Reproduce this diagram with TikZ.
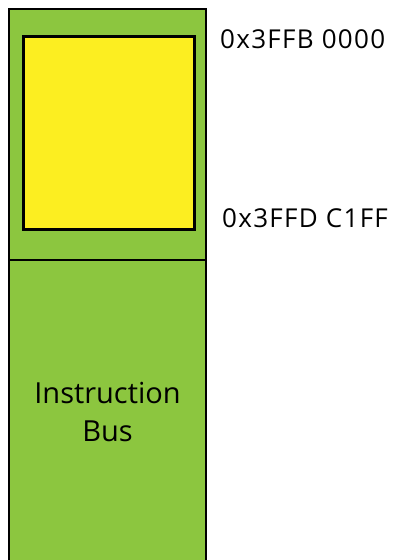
\documentclass[tikz,border=0pt]{standalone}
\usepackage{fontspec}
\setmainfont{Open Sans}
\newfontfamily\addrfont[LetterSpace=5]{Open Sans}
\usepackage{xcolor}
\usetikzlibrary{positioning}
\definecolor{busgreen}{HTML}{8CC63F}
\definecolor{memyellow}{HTML}{FCEE21}

\begin{document}
\begin{tikzpicture}[x=1pt, y=-1pt,
  region/.style={draw, line width=1.6pt, fill=busgreen, minimum width=197pt,
    inner sep=0pt, outer sep=0pt, align=center},
  mem/.style={draw, line width=2.6pt, fill=memyellow, minimum width=171pt,
    minimum height=193pt, inner sep=0pt},
  addr/.style={anchor=base west, inner sep=0pt,
    font=\addrfont\fontsize{26}{30}\selectfont}
]
  \clip (0,0) rectangle (397,560);
  \node[region, minimum height=251pt, anchor=north west] (dram) at (9,9) {};
  \node[region, minimum height=304pt, below=0pt of dram,
    font=\fontsize{29}{38}\selectfont] (ibus) {Instruction\\Bus};
  \draw[line width=2.6pt] (ibus.south west) -- (dram.north west)
    -- (dram.north east) -- (ibus.south east);
  \node[mem, anchor=north west] (iram) at (22,35) {};
  \node[addr] (top) at (220,48) {0x3FFB 0000};
  \node[addr] (bot) at (222,227) {0x3FFD C1FF};
\end{tikzpicture}
\end{document}
